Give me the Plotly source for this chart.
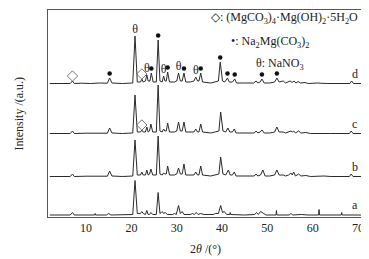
import plotly.graph_objects as go
import numpy as np

# ---- data (2θ in degrees, intensity in arbitrary units above each pattern's baseline) ----
d_x = [2, 6.5, 7.0, 7.4, 9, 11, 13, 14.7, 15.2, 15.7, 18, 20.3, 20.8, 21.3, 22.0, 22.3, 22.6, 23.1, 23.4, 23.7,
       24.1, 24.4, 24.8, 25.5, 25.9, 26.3, 26.8, 27.1, 27.4, 27.7, 28.0, 28.4, 29.5, 30.0, 30.4, 30.8, 31.2, 31.6,
       32.0, 33.0, 33.8, 34.2, 34.6, 34.9, 35.3, 35.7, 37.5, 39.2, 39.6, 40.1, 40.6, 41.2, 41.6, 42.3, 42.8, 43.2,
       45, 47.0, 47.5, 47.9, 48.4, 48.8, 49.3, 50.5, 51.6, 52.1, 52.6, 53.5, 54.0, 54.5, 55.0, 55.5, 55.9, 56.3,
       56.8, 57.3, 58.3, 59, 61, 63, 66, 68.2, 68.6, 69.0, 71]
d_y = [0.5, 0.5, 3, 0.5, 0.8, 0.5, 1, 0.8, 6, 1, 0.5, 1, 48, 2, 2, 5, 2, 3, 9, 3,
       3, 11, 2, 2, 44, 3, 2, 8, 3, 3, 12, 2, 2, 3, 11, 3, 3, 11,
       2, 2, 3, 7, 3, 3, 11, 2, 1, 3, 22, 3, 2, 6, 2, 2, 5, 1,
       1, 1, 3, 1, 2, 5, 1, 1, 2, 6, 2, 3, 1, 2, 3, 1.5, 3, 1,
       2.5, 1, 1.5, 0.5, 1, 0.5, 0.5, 0.5, 3, 0.5, 0.5]

c_x = [2, 6.5, 7.0, 7.4, 10, 13, 14.7, 15.2, 15.7, 18, 20.3, 20.8, 21.3, 22.0, 22.3, 22.6, 23.1, 23.4, 23.7,
       24.0, 24.3, 24.7, 25.5, 25.9, 26.3, 26.8, 27.1, 27.4, 27.7, 28.0, 28.4, 29.5, 30.0, 30.4, 30.8, 31.2, 31.6,
       32.0, 33.0, 33.8, 34.2, 34.6, 34.9, 35.3, 35.7, 37.5, 39.3, 39.7, 40.2, 40.8, 41.3, 41.7, 42.3, 42.7, 43.1,
       45, 47.1, 47.5, 47.9, 48.4, 48.8, 49.3, 50.5, 51.6, 52.1, 52.6, 53.5, 54.0, 54.7, 55.2, 55.5, 55.8, 56.2,
       56.9, 57.4, 58.5, 59.5, 62.5, 64, 68.1, 68.5, 68.9, 71]
c_y = [0.5, 0.5, 3, 0.5, 0.8, 1, 0.8, 6, 1, 0.5, 1, 39, 2, 2, 4, 2, 2, 7, 2,
       3, 10, 2, 2, 49, 3, 2, 5, 3, 3, 11, 2, 2, 3, 12, 3, 3, 12,
       2, 2, 2, 5, 2, 2, 10, 2, 1, 3, 22, 3, 2, 6, 2, 2, 5, 1,
       1, 1, 3, 1, 2, 4, 1, 1, 2, 7, 2, 2, 1, 2, 3, 2, 3, 1,
       3, 1, 1.5, 0.5, 1, 0.5, 0.5, 3, 0.5, 0.5]

b_x = [2, 6.5, 7.0, 7.4, 10, 13, 14.7, 15.2, 15.7, 18, 20.3, 20.8, 21.3, 22.0, 22.3, 22.6, 23.1, 23.4, 23.7,
       24.0, 24.3, 24.7, 25.5, 25.9, 26.3, 26.8, 27.1, 27.4, 27.7, 28.0, 28.4, 29.5, 30.0, 30.4, 30.8, 31.2, 31.6,
       32.0, 33.0, 33.8, 34.2, 34.6, 34.9, 35.3, 35.7, 37.5, 39.3, 39.7, 40.2, 40.8, 41.4, 41.8, 42.3, 42.7, 43.1,
       45, 47.1, 47.5, 47.9, 48.5, 49.0, 49.5, 50.5, 51.6, 52.1, 52.6, 53.5, 54.0, 54.7, 55.2, 55.5, 55.8, 56.2,
       56.9, 57.4, 58.5, 59.5, 62.5, 64, 68.1, 68.5, 68.9, 71]
b_y = [0.5, 0.5, 3, 0.5, 0.8, 1, 0.8, 6, 1, 0.5, 1, 37, 2, 2, 5, 2, 2, 7, 2,
       3, 8, 2, 2, 41, 3, 2, 4, 3, 3, 11, 2, 2, 3, 9, 3, 3, 13,
       2, 2, 2, 5, 2, 2, 11, 2, 1, 3, 20, 3, 2, 7, 2, 2, 5, 1,
       1, 1, 3, 1, 2, 7, 1, 1, 2, 7, 2, 2, 1, 2, 4, 2, 5, 1,
       3, 1, 1.5, 0.5, 1, 0.5, 0.5, 3, 0.5, 0.5]

a_x = [2, 6.5, 7.0, 7.4, 10, 11.9, 12.0, 12.1, 14.5, 15.0, 15.5, 18, 20.3, 20.8, 21.3, 22.0, 22.3, 22.6, 23.1,
       23.4, 23.7, 24.0, 24.3, 24.7, 25.5, 25.9, 26.3, 26.6, 26.8, 27.1, 27.5, 27.9, 29.1, 29.5, 29.9, 30.4, 30.8,
       31.2, 31.6, 33.0, 33.5, 33.9, 34.3, 34.7, 35.3, 36, 38.1, 38.5, 39.2, 39.7, 40.1, 40.5, 41.0, 41.7, 41.8,
       41.9, 45, 47.2, 47.6, 48.0, 48.5, 49.2, 49.7, 51.9, 52.0, 52.1, 54.8, 55.2, 55.6, 57.5, 59, 61.3, 61.4,
       61.5, 64, 66.3, 66.4, 66.5, 71]
a_y = [0.5, 0.5, 3, 0.5, 0.5, 0.5, 2, 0.5, 0.5, 2, 0.5, 0.5, 1, 35, 2, 2, 4, 2, 1,
       5, 1, 1, 3, 1, 1, 23, 2, 3, 4, 2, 3, 1, 1, 2, 1, 10, 2,
       4, 1, 1, 2, 1, 3, 1, 2, 1, 1, 2, 2, 10, 3, 4, 1, 1, 3,
       1, 0.5, 1, 3, 1, 4, 2, 0.5, 0.5, 5, 0.5, 0.5, 2, 0.5, 1, 0.5, 0.5, 6,
       0.5, 0.5, 0.5, 3, 0.5, 0.5]

series_names = ["a", "b", "c", "d"]
series_x = [a_x, b_x, c_x, d_x]
series_y = [a_y, b_y, c_y, d_y]
offsets = [1.5, 40, 83, 133]

# phase markers on pattern d (and one on c)
theta_pos = [20.8, 23.4, 27.1, 30.4, 34.2]
dot_pos = [15.2, 24.4, 25.9, 28.0, 31.6, 35.3, 39.6, 41.2, 42.8, 48.8, 52.1]
diamond_pos_d = [7.0, 22.3]
diamond_pos_c = [22.3]

FONT = "Liberation Serif, Times New Roman, serif"
LINE = "#2a2a2a"
TXT = "#222222"

fig = go.Figure()
for name, xs, ys, off in zip(series_names, series_x, series_y, offsets):
    fig.add_trace(go.Scatter(x=xs, y=np.array(ys) + off, mode="lines",
                             line=dict(color=LINE, width=1), name=name, showlegend=False))
    fig.add_annotation(x=69.3, y=off + 1.5, text=name, showarrow=False, xanchor="center",
                       yanchor="bottom", font=dict(family=FONT, size=12, color=TXT))

d_off = offsets[3]
c_off = offsets[2]
ty = [np.interp(p, d_x, d_y) + d_off for p in theta_pos]
dy = [np.interp(p, d_x, d_y) + d_off for p in dot_pos]
gy = [np.interp(p, d_x, d_y) + d_off for p in diamond_pos_d]
gcy = [np.interp(p, c_x, c_y) + c_off for p in diamond_pos_c]

fig.add_trace(go.Scatter(x=theta_pos, y=ty, mode="text", text=["θ"] * len(theta_pos),
                         textposition="top center", textfont=dict(family=FONT, size=12, color=TXT),
                         showlegend=False))
fig.add_trace(go.Scatter(x=dot_pos, y=np.array(dy) + 4.5, mode="markers",
                         marker=dict(symbol="circle", size=4.5, color="#111"), showlegend=False))
fig.add_trace(go.Scatter(x=diamond_pos_d + diamond_pos_c, y=np.array(gy + gcy) + 5, mode="markers",
                         marker=dict(symbol="diamond-open", size=8, color="#666", line=dict(width=0.9)),
                         showlegend=False))

fig.add_annotation(xref="paper", yref="paper", x=0.992, y=0.961, xanchor="right", yanchor="middle",
                   text="◇: (MgCO<sub>3</sub>)<sub>4</sub>·Mg(OH)<sub>2</sub>·5H<sub>2</sub>O",
                   showarrow=False, font=dict(family=FONT, size=12, color=TXT))
fig.add_annotation(xref="paper", yref="paper", x=0.705, y=0.845, xanchor="center", yanchor="middle",
                   text="•: Na<sub>2</sub>Mg(CO<sub>3</sub>)<sub>2</sub>",
                   showarrow=False, font=dict(family=FONT, size=12, color=TXT))
fig.add_annotation(xref="paper", yref="paper", x=0.737, y=0.739, xanchor="center", yanchor="middle",
                   text="θ: NaNO<sub>3</sub>",
                   showarrow=False, font=dict(family=FONT, size=12, color=TXT))
# axis titles
fig.add_annotation(xref="paper", yref="paper", x=-0.095, y=0.5, xanchor="center", yanchor="middle",
                   textangle=-90, text="Intensity /(a.u.)", showarrow=False,
                   font=dict(family=FONT, size=12, color=TXT))
fig.add_annotation(xref="paper", yref="paper", x=0.5, y=-0.155, xanchor="center", yanchor="middle",
                   text="2<i>θ</i> /(°)", showarrow=False,
                   font=dict(family=FONT, size=12, color=TXT))

# the page body adds an 8 px margin, so the figure is sized/offset to compensate
fig.update_layout(
    width=361, height=251,
    margin=dict(l=40, r=6, t=2, b=42, autoexpand=False),
    paper_bgcolor="white", plot_bgcolor="white",
    font=dict(family=FONT, size=12, color=TXT),
    xaxis=dict(range=[1.6, 71.1], tickvals=[10, 20, 30, 40, 50, 60, 70], ticks="", automargin=False,
               showgrid=False, zeroline=False, showline=True, mirror=True, linecolor="#555", linewidth=1,
               tickfont=dict(family=FONT, size=12, color=TXT)),
    yaxis=dict(range=[0, 207], showticklabels=False, ticks="", showgrid=False, zeroline=False,
               automargin=False, showline=True, mirror=True, linecolor="#555", linewidth=1),
)

fig.write_html("out.html")
